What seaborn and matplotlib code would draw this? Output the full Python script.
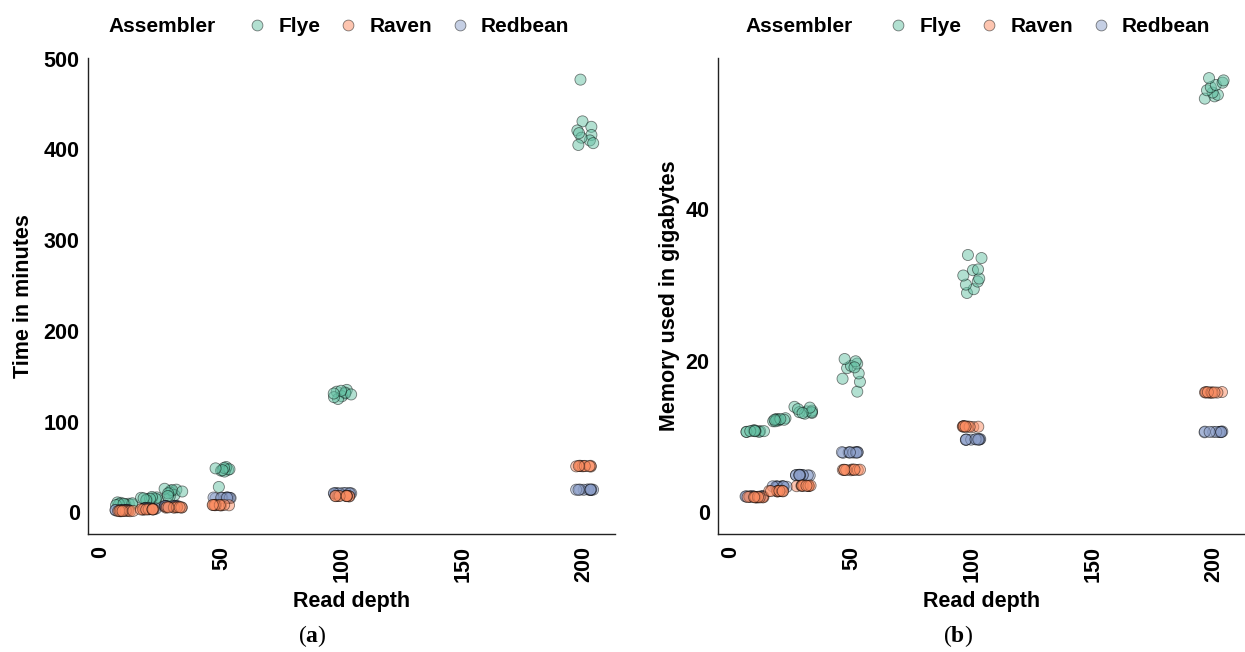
import numpy as np
import pandas as pd
import matplotlib
matplotlib.use("Agg")
import matplotlib.pyplot as plt
import seaborn as sns
from matplotlib.lines import Line2D

# ---------------- data ----------------
DEPTHS = [10, 20, 30, 50, 100, 200]
ASSEMBLERS = ["Flye", "Raven", "Redbean"]
XTICKS = [0, 50, 100, 150, 200]
TIME_TICKS = [0, 100, 200, 300, 400, 500]
MEM_TICKS = [0, 20, 40]

# Time in minutes, one list of replicates per read depth
FLYE_TIME = [
    [8.0, 9.5, 10.5, 9.0, 8.5, 10.0, 11.0, 9.0, 8.0, 9.5],
    [14.0, 15.5, 16.5, 15.0, 14.5, 16.0, 17.0, 15.0, 13.5, 15.5],
    [24.0, 25.0, 22.0, 19.0, 17.5, 24.5, 26.0, 21.0, 23.0, 18.0],
    [48.0, 46.0, 47.0, 50.0, 45.0, 47.5, 49.0, 28.0, 46.5, 48.5],
    [133, 135, 131, 128, 125, 132, 130, 134, 127, 131],
    [477, 431, 425, 421, 416, 410, 407, 413, 405, 418],
]
RAVEN_TIME = [
    [1.2, 1.5, 1.8, 1.4, 1.6, 1.3, 1.7, 1.5, 1.4, 1.6],
    [3.0, 3.3, 3.5, 3.2, 3.4, 3.1, 3.6, 3.3, 3.2, 3.4],
    [5.2, 5.5, 5.8, 5.4, 5.6, 5.3, 5.7, 5.5, 5.4, 5.6],
    [7.6, 8.0, 8.3, 7.9, 8.1, 7.8, 8.2, 8.0, 7.9, 8.1],
    [17.6, 18.0, 18.3, 17.9, 18.1, 17.8, 18.2, 18.0, 17.9, 18.1],
    [50.5, 51.0, 51.4, 50.8, 51.2, 50.7, 51.3, 51.0, 50.9, 51.1],
]
REDBEAN_TIME = [
    [2.2, 2.5, 2.8, 2.4, 2.6, 2.3, 2.7, 2.5, 2.4, 2.6],
    [4.0, 4.3, 4.6, 4.2, 4.4, 4.1, 4.5, 4.3, 4.2, 4.4],
    [6.5, 6.8, 7.1, 6.7, 6.9, 6.6, 7.0, 6.8, 6.7, 6.9],
    [15.5, 16.0, 16.5, 15.8, 16.2, 15.7, 16.3, 16.0, 15.9, 16.1],
    [20.6, 21.0, 21.4, 20.9, 21.2, 20.8, 21.3, 21.0, 20.9, 21.1],
    [24.6, 25.0, 25.3, 24.9, 25.1, 24.8, 25.2, 25.0, 24.9, 25.1],
]

# Memory used in gigabytes
FLYE_MEM = [
    [10.6, 10.7, 10.8, 10.6, 10.7, 10.7, 10.8, 10.6, 10.7, 10.7],
    [12.0, 12.2, 12.3, 12.1, 12.2, 12.4, 12.2, 12.0, 12.3, 12.2],
    [13.1, 13.3, 13.9, 13.2, 13.0, 13.6, 13.4, 13.2, 13.8, 13.1],
    [15.9, 17.2, 17.6, 18.3, 19.0, 19.3, 19.6, 19.9, 20.2, 19.1],
    [28.9, 29.4, 30.0, 30.4, 30.8, 31.2, 31.9, 32.0, 33.5, 33.9],
    [54.5, 54.8, 55.0, 55.3, 55.6, 56.0, 56.3, 56.6, 56.9, 57.2],
]
RAVEN_MEM = [
    [1.95, 2.0, 2.05, 2.0, 1.98, 2.02, 2.0, 1.97, 2.03, 2.0],
    [2.75, 2.8, 2.85, 2.8, 2.78, 2.82, 2.8, 2.77, 2.83, 2.8],
    [3.45, 3.5, 3.55, 3.5, 3.48, 3.52, 3.5, 3.47, 3.53, 3.5],
    [5.55, 5.6, 5.65, 5.6, 5.58, 5.62, 5.6, 5.57, 5.63, 5.6],
    [11.25, 11.3, 11.35, 11.3, 11.28, 11.32, 11.3, 11.27, 11.33, 11.3],
    [15.75, 15.8, 15.85, 15.8, 15.78, 15.82, 15.8, 15.77, 15.83, 15.8],
]
REDBEAN_MEM = [
    [2.05, 2.1, 2.15, 2.1, 2.08, 2.12, 2.1, 2.07, 2.13, 2.1],
    [3.35, 3.4, 3.45, 3.4, 3.38, 3.42, 3.4, 3.37, 3.43, 3.4],
    [4.85, 4.9, 4.95, 4.9, 4.88, 4.92, 4.9, 4.87, 4.93, 4.9],
    [7.85, 7.9, 7.95, 7.9, 7.88, 7.92, 7.9, 7.87, 7.93, 7.9],
    [9.55, 9.6, 9.65, 9.6, 9.58, 9.62, 9.6, 9.57, 9.63, 9.6],
    [10.55, 10.6, 10.65, 10.6, 10.58, 10.62, 10.6, 10.57, 10.63, 10.6],
]

PALETTE = dict(zip(ASSEMBLERS, sns.color_palette("Set2", 3)))


def make_df(flye, raven, redbean):
    rows = []
    # drawing order: Flye, Redbean, then Raven on top
    for name, vals in (("Flye", flye), ("Redbean", redbean), ("Raven", raven)):
        for d, reps in zip(DEPTHS, vals):
            for v in reps:
                rows.append((d, v, name))
    return pd.DataFrame(rows, columns=["Read depth", "value", "Assembler"])


df_time = make_df(FLYE_TIME, RAVEN_TIME, REDBEAN_TIME)
df_mem = make_df(FLYE_MEM, RAVEN_MEM, REDBEAN_MEM)

# ---------------- style ----------------
sns.set_theme(style="white")
plt.rcParams["font.family"] = ["Liberation Sans", "DejaVu Sans"]
plt.rcParams["text.color"] = "black"
plt.rcParams["axes.labelcolor"] = "black"
plt.rcParams["xtick.color"] = "black"
plt.rcParams["ytick.color"] = "black"
plt.rcParams["mathtext.fontset"] = "custom"
plt.rcParams["mathtext.rm"] = "Liberation Serif"
plt.rcParams["mathtext.bf"] = "Liberation Serif:bold"

W, H = 1245, 652
FS = 15.5
LFS = 15
fig = plt.figure(figsize=(W / 100, H / 100), dpi=100)
ax_a = fig.add_axes([88 / W, 1 - 534 / H, 527 / W, 476 / H])
ax_b = fig.add_axes([718 / W, 1 - 534 / H, 527 / W, 476 / H])


def draw(ax, df, ylim, yticks, ylabel, ylab_x, seed):
    np.random.seed(seed)
    sns.stripplot(data=df, x="Read depth", y="value", hue="Assembler",
                  hue_order=ASSEMBLERS, palette=PALETTE, native_scale=True,
                  jitter=0.4, dodge=False, size=8.0, alpha=0.5,
                  edgecolor="black", linewidth=0.6, legend=False, ax=ax)
    ax.set_xlim(-5.2, 212.8)
    ax.set_ylim(*ylim)
    ax.set_xticks(XTICKS)
    ax.set_xticklabels([str(t) for t in XTICKS], rotation=90,
                       fontsize=FS, fontweight="bold", color="black")
    ax.set_yticks(yticks)
    ax.set_yticklabels([str(t) for t in yticks], fontsize=FS,
                       fontweight="bold", color="black")
    ax.tick_params(axis="both", length=0, colors="black")
    ax.tick_params(axis="x", pad=9)
    ax.tick_params(axis="y", pad=6)
    for s in ("top", "right"):
        ax.spines[s].set_visible(False)
    for s in ("left", "bottom"):
        ax.spines[s].set_color("#222222")
        ax.spines[s].set_linewidth(1.0)
    ax.set_xlabel("Read depth", fontsize=FS, fontweight="bold", color="black")
    ax.xaxis.set_label_coords(0.5, -0.12)
    ax.set_ylabel(ylabel, fontsize=FS, fontweight="bold", color="black")
    ax.yaxis.set_label_coords(ylab_x, 0.5)
    ax.set_facecolor("white")


draw(ax_a, df_time, (-23.85, 500.85), TIME_TICKS, "Time in minutes", -0.1025, 3)
draw(ax_b, df_mem, (-2.85, 59.85), MEM_TICKS, "Memory used in gigabytes", -0.072, 7)

# legends (horizontal, title inline)
handles = [Line2D([], [], marker="o", linestyle="none", markersize=7.8,
                  markerfacecolor=PALETTE[a], markeredgecolor="black",
                  markeredgewidth=0.6, alpha=0.5) for a in ASSEMBLERS]
for title_x, leg_x in ((108, 247), (745, 888)):
    fig.text(title_x / W, 1 - 27 / H, "Assembler", ha="left", va="center",
             fontsize=LFS, fontweight="bold", color="black")
    leg = fig.legend(handles, ASSEMBLERS, loc="center left",
                     bbox_to_anchor=(leg_x / W, 1 - 27 / H), ncol=3,
                     frameon=False, handlelength=1.0, handletextpad=0.5,
                     columnspacing=0.85, borderpad=0, borderaxespad=0,
                     prop={"size": LFS, "weight": "bold"})
    for t in leg.get_texts():
        t.set_color("black")

# panel captions
for cx, letter in ((312, "a"), (958, "b")):
    fig.text(cx / W, 1 - 636 / H, "($\\mathbf{%s}$)" % letter, ha="center",
             va="center", fontsize=17, family="Liberation Serif",
             color="black")

fig.savefig("out.png", dpi=100, facecolor="white")
